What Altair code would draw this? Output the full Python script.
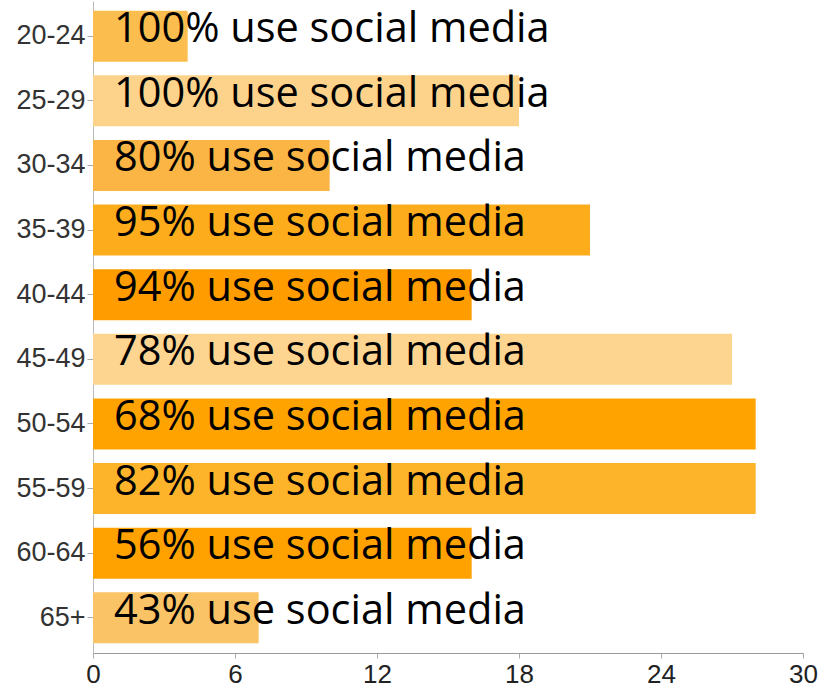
import altair as alt
import pandas as pd

ages = ["20-24", "25-29", "30-34", "35-39", "40-44", "45-49", "50-54", "55-59", "60-64", "65+"]
counts = [4, 18, 10, 21, 16, 27, 28, 28, 16, 7]
shares = [100, 100, 80, 95, 94, 78, 68, 82, 56, 43]
palette = ["#FBBE4E", "#FDD38C", "#FAB544", "#FDAD1C", "#FF9D00",
           "#FDD591", "#FFA300", "#FDB42A", "#FFA200", "#FAC366"]

df = pd.DataFrame({
    "age": ages,
    "count": counts,
    "label": [f"{s}% use social media" for s in shares],
})

y_enc = alt.Y("age:N", sort=ages, title=None,
              scale=alt.Scale(paddingInner=0.21, paddingOuter=0.15),
              axis=alt.Axis(labelFont="Liberation Sans", labelFontSize=27,
                            labelColor="#333333", tickColor="#AAAAAA",
                            tickSize=6, domainColor="#BBBBBB", labelPadding=2))

bars = alt.Chart(df).mark_bar().encode(
    y=y_enc,
    x=alt.X("count:Q", title=None,
            scale=alt.Scale(domain=[0, 30], nice=False),
            axis=alt.Axis(values=[0, 6, 12, 18, 24, 30], grid=False,
                          labelFlush=False,
                          labelFont="Liberation Sans", labelFontSize=26,
                          labelColor="#222222", tickColor="#AAAAAA",
                          tickSize=5, domainColor="#999999", labelPadding=3)),
    color=alt.Color("age:N", sort=ages, legend=None,
                    scale=alt.Scale(domain=ages, range=palette)),
)

texts = alt.Chart(df).mark_text(
    align="left", baseline="alphabetic", dx=21, dy=6,
    font="Open Sans", fontSize=41.5, color="#000000",
).encode(
    y=alt.Y("age:N", sort=ages),
    x=alt.datum(0),
    text="label:N",
)

chart = alt.layer(bars, texts).properties(
    width=710, height=652,
    background="white",
    autosize=alt.AutoSizeParams(type="none"),
    padding={"left": 93, "top": 1, "right": 20, "bottom": 35},
).configure_view(strokeWidth=0)

chart.save("out.html", embed_options={"renderer": "svg", "actions": False})
